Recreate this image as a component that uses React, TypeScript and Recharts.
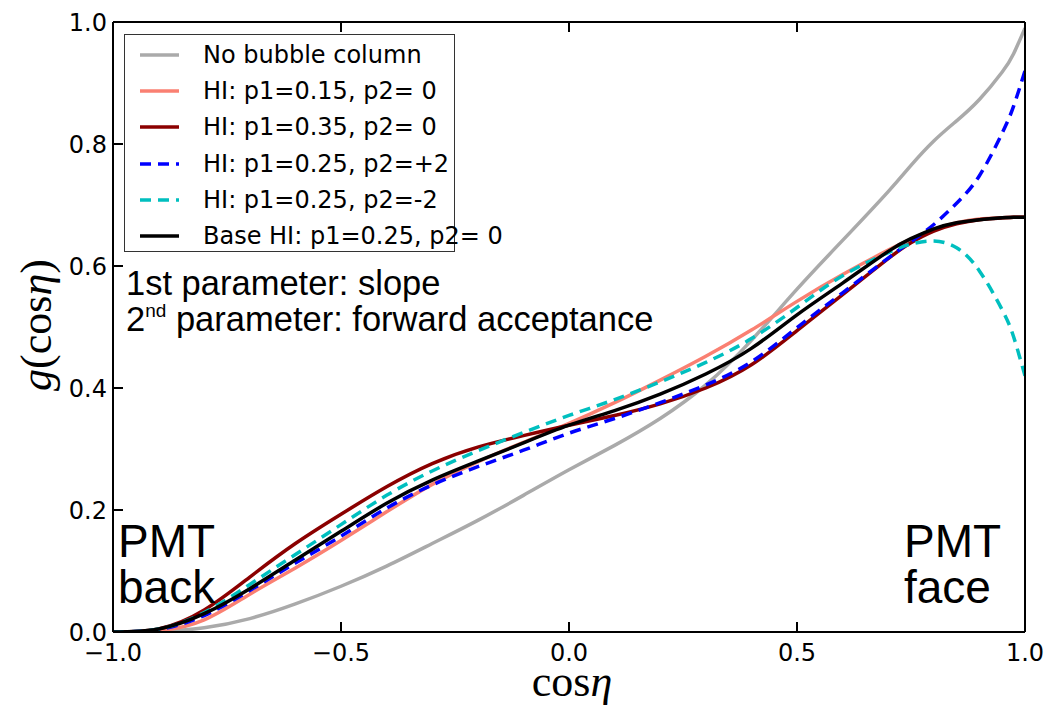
import React from "react";
import { LineChart, Line, XAxis, YAxis } from "recharts";

// cos(eta) sample points
const cosEta = [
  -1, -0.9, -0.8, -0.7, -0.6, -0.5, -0.4, -0.3, -0.2, -0.1, 0, 0.1, 0.2, 0.3,
  0.4, 0.5, 0.6, 0.7, 0.75, 0.8, 0.85, 0.9, 0.95, 0.975, 1,
];

const noBubble = [
  0, 0.001, 0.007, 0.022, 0.046, 0.075, 0.108, 0.145, 0.183, 0.224, 0.266,
  0.306, 0.35, 0.405, 0.478, 0.562, 0.642, 0.722, 0.765, 0.805, 0.838, 0.873,
  0.918, 0.948, 0.99,
];
const hiP015 = [
  0, 0.002, 0.02, 0.062, 0.105, 0.15, 0.197, 0.242, 0.279, 0.311, 0.342,
  0.376, 0.413, 0.452, 0.495, 0.542, 0.586, 0.626, 0.644, 0.66, 0.671, 0.677,
  0.679, 0.68, 0.68,
];
const hiP035 = [
  0, 0.005, 0.036, 0.09, 0.145, 0.193, 0.238, 0.276, 0.303, 0.322, 0.339,
  0.355, 0.374, 0.4, 0.438, 0.494, 0.553, 0.612, 0.638, 0.657, 0.669, 0.676,
  0.679, 0.68, 0.68,
];
const hiP2Plus = [
  0, 0.004, 0.027, 0.068, 0.113, 0.157, 0.203, 0.241, 0.271, 0.298, 0.326,
  0.35, 0.376, 0.405, 0.443, 0.499, 0.556, 0.613, 0.64, 0.668, 0.703, 0.748,
  0.818, 0.862, 0.92,
];
const hiP2Minus = [
  0, 0.005, 0.032, 0.078, 0.127, 0.176, 0.224, 0.264, 0.297, 0.327, 0.355,
  0.381, 0.41, 0.442, 0.481, 0.532, 0.584, 0.622, 0.636, 0.641, 0.63, 0.592,
  0.528, 0.484, 0.42,
];
const baseHI = [
  0, 0.005, 0.03, 0.071, 0.118, 0.165, 0.211, 0.249, 0.28, 0.31, 0.339,
  0.363, 0.39, 0.423, 0.465, 0.52, 0.572, 0.624, 0.645, 0.661, 0.671, 0.676,
  0.679, 0.68, 0.68,
];

const xTicks = [-1, -0.5, 0, 0.5, 1];
const yTicks = [0, 0.2, 0.4, 0.6, 0.8, 1.0];

const series = [
  { key: "noBubble", name: "No bubble column", color: "#aaaaaa", dash: undefined },
  { key: "hiP015", name: "HI: p1=0.15, p2= 0", color: "#fa8072", dash: undefined },
  { key: "hiP035", name: "HI: p1=0.35, p2= 0", color: "#8b0000", dash: undefined },
  { key: "hiP2Plus", name: "HI: p1=0.25, p2=+2", color: "#0000ff", dash: "11 7" },
  { key: "hiP2Minus", name: "HI: p1=0.25, p2=-2", color: "#00bfbf", dash: "11 7" },
  { key: "baseHI", name: "Base HI: p1=0.25, p2= 0", color: "#000000", dash: undefined },
];

const data = cosEta.map((x, i) => ({
  x,
  noBubble: noBubble[i],
  hiP015: hiP015[i],
  hiP035: hiP035[i],
  hiP2Plus: hiP2Plus[i],
  hiP2Minus: hiP2Minus[i],
  baseHI: baseHI[i],
}));

const fmt = (v: number) => {
  const s = v.toFixed(1);
  return s.startsWith("-") ? "\u2212" + s.slice(1) : s;
};

const TICK_LEN = 10;
const tickText = { fontSize: 24, fill: "#000", fontFamily: "DejaVu Sans" };
const annFont = "Liberation Sans, Arial, sans-serif";
const mathFont = "Liberation Serif, serif";

// inward ticks, matplotlib style
function BottomTick(props: any) {
  const { x, y, payload } = props;
  const axisY = y - 10;
  return (
    <g>
      <line x1={x} x2={x} y1={axisY} y2={axisY - TICK_LEN} stroke="#000" strokeWidth={2} />
      <text x={x} y={y} dy="0.78em" textAnchor="middle" {...tickText}>
        {fmt(payload.value)}
      </text>
    </g>
  );
}
function LeftTick(props: any) {
  const { x, y, payload } = props;
  const axisX = x + 6;
  return (
    <g>
      <line x1={axisX} x2={axisX + TICK_LEN} y1={y} y2={y} stroke="#000" strokeWidth={2} />
      <text x={x} y={y} dy="0.36em" textAnchor="end" {...tickText}>
        {fmt(payload.value)}
      </text>
    </g>
  );
}
function TopTick(props: any) {
  const { x, y } = props;
  return <line x1={x} x2={x} y1={y} y2={y + TICK_LEN} stroke="#000" strokeWidth={2} />;
}
function RightTick(props: any) {
  const { x, y } = props;
  return <line x1={x} x2={x - TICK_LEN} y1={y} y2={y} stroke="#000" strokeWidth={2} />;
}

function LegendBox() {
  return (
    <div
      style={{
        position: "absolute",
        left: 124,
        top: 34,
        width: 331,
        height: 218,
        border: "1.5px solid #333",
        background: "#fff",
        boxSizing: "border-box",
        fontFamily: "DejaVu Sans",
        fontSize: 24,
        color: "#000",
      }}
    >
      {series.map((s, i) => (
        <div
          key={s.key}
          style={{
            position: "absolute",
            left: 0,
            top: 20 + i * 36.2 - 17,
            height: 34,
            display: "flex",
            alignItems: "center",
            whiteSpace: "nowrap",
          }}
        >
          <svg width={78} height={34}>
            <line
              x1={15}
              x2={54}
              y1={17}
              y2={17}
              stroke={s.color}
              strokeWidth={3.5}
              strokeDasharray={s.dash}
            />
          </svg>
          <span>{s.name}</span>
        </div>
      ))}
    </div>
  );
}

export default function App() {
  return (
    <div
      style={{
        position: "absolute",
        left: 0,
        top: 0,
        width: 1060,
        height: 709,
        background: "#fff",
      }}
    >
      <LineChart
        width={1060}
        height={709}
        data={data}
        margin={{ top: 0, right: 0, bottom: 0, left: 0 }}
      >
        <XAxis
          xAxisId={0}
          dataKey="x"
          type="number"
          domain={[-1, 1]}
          ticks={xTicks}
          height={77}
          stroke="#000"
          strokeWidth={2}
          tickLine={false}
          tickSize={0}
          tickMargin={10}
          tick={<BottomTick />}
          interval={0}
          allowDataOverflow
        />
        <XAxis
          xAxisId="top"
          orientation="top"
          dataKey="x"
          type="number"
          domain={[-1, 1]}
          ticks={xTicks}
          height={22}
          stroke="#000"
          strokeWidth={2}
          tickLine={false}
          tickSize={0}
          tickMargin={0}
          tick={<TopTick />}
          interval={0}
        />
        <YAxis
          yAxisId={0}
          type="number"
          domain={[0, 1]}
          ticks={yTicks}
          width={113}
          stroke="#000"
          strokeWidth={2}
          tickLine={false}
          tickSize={0}
          tickMargin={6}
          tick={<LeftTick />}
          interval={0}
          allowDataOverflow
        />
        <YAxis
          yAxisId="right"
          orientation="right"
          type="number"
          domain={[0, 1]}
          ticks={yTicks}
          width={35}
          stroke="#000"
          strokeWidth={2}
          tickLine={false}
          tickSize={0}
          tickMargin={0}
          tick={<RightTick />}
          interval={0}
        />
        {series.map((s) => (
          <Line
            key={s.key}
            xAxisId={0}
            yAxisId={0}
            type="natural"
            dataKey={s.key}
            name={s.name}
            stroke={s.color}
            strokeWidth={3.5}
            strokeDasharray={s.dash}
            dot={false}
            activeDot={false}
            isAnimationActive={false}
          />
        ))}
      </LineChart>

      <LegendBox />

      {/* annotations */}
      <div
        style={{
          position: "absolute",
          left: 126,
          top: 265,
          fontFamily: annFont,
          fontSize: 34.5,
          lineHeight: "36px",
          color: "#000",
          whiteSpace: "nowrap",
        }}
      >
        <div>1st parameter: slope</div>
        <div>
          2<sup style={{ fontSize: 19, verticalAlign: "top", lineHeight: "20px" }}>nd</sup>{" "}
          parameter: forward acceptance
        </div>
      </div>
      <div
        style={{
          position: "absolute",
          left: 118,
          top: 518,
          fontFamily: annFont,
          fontSize: 46,
          lineHeight: "46px",
          color: "#000",
        }}
      >
        <div>PMT</div>
        <div>back</div>
      </div>
      <div
        style={{
          position: "absolute",
          left: 904,
          top: 518,
          fontFamily: annFont,
          fontSize: 46,
          lineHeight: "46px",
          color: "#000",
        }}
      >
        <div>PMT</div>
        <div>face</div>
      </div>

      {/* axis labels */}
      <div
        style={{
          position: "absolute",
          left: 572,
          top: 662,
          transform: "translateX(-50%)",
          fontFamily: mathFont,
          fontSize: 44,
          lineHeight: "40px",
          color: "#000",
          whiteSpace: "nowrap",
        }}
      >
        cos<i>η</i>
      </div>
      <div
        style={{
          position: "absolute",
          left: 37,
          top: 325,
          transform: "translate(-50%, -50%) rotate(-90deg)",
          fontFamily: mathFont,
          fontSize: 44,
          lineHeight: "44px",
          color: "#000",
          whiteSpace: "nowrap",
        }}
      >
        <i>g</i>(cos<i>η</i>)
      </div>
    </div>
  );
}
